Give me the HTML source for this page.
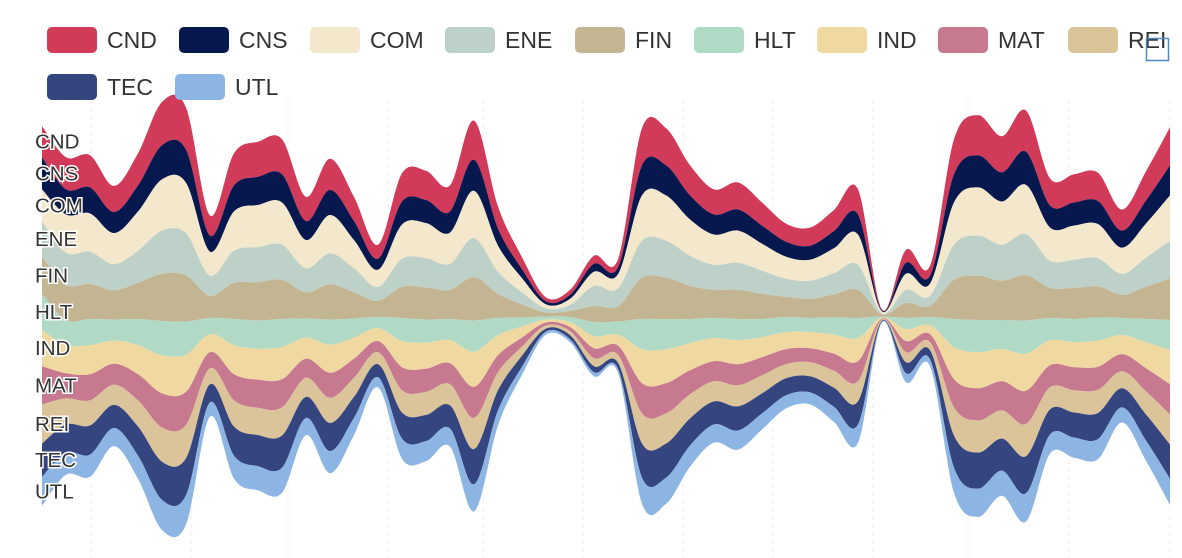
<!DOCTYPE html>
<html><head><meta charset="utf-8">
<style>
html,body{margin:0;padding:0;background:#fff;}
body{width:1182px;height:558px;overflow:hidden;position:relative;font-family:"Liberation Sans",sans-serif;}
svg{position:absolute;left:0;top:0;}
</style></head>
<body>
<svg id="chart" width="1182" height="558"></svg>
<script>
const series = ["CND","CNS","COM","ENE","FIN","HLT","IND","MAT","REI","TEC","UTL"];
const colors = ["#d13a59","#07184f","#f3e7cc","#bed1c9","#c4b592","#b0d9c6","#f0d9a0","#c77990","#dcc49a","#344580","#8db5e3"];
const gridX = [91,191,288,388,483,583,683,773,873,968,1069,1170];
const vCND=[31,32,32,26,32,43,42,20,32,35,35,24,31,24,14,28,29,26,39,22,12,4,5,8,8,37,37,30,25,27,23,18,18,21,25,1,13,10,35,40,36,41,27,28,28,21,29,38];
const vCNS=[32,25,26,21,26,34,33,16,26,28,28,19,25,19,11,23,23,21,31,17,9,3,4,8,7,30,30,24,20,21,18,15,14,17,20,1,11,8,28,32,29,33,22,23,23,17,23,30];
const vCOM=[32,38,38,31,39,51,50,24,39,42,42,28,38,28,17,34,35,31,47,26,14,4,6,14,14,45,45,36,30,32,27,22,21,25,30,2,16,12,42,48,43,49,33,34,34,26,34,45];
const vENE=[35,32,32,26,32,43,42,20,32,35,35,24,31,24,14,28,29,26,39,22,12,4,6,20,18,37,37,30,25,27,23,18,18,21,25,1,13,10,35,40,36,41,27,28,28,21,29,38];
const vFIN=[37,35,35,29,36,47,46,22,36,38,39,26,35,26,16,31,32,29,43,24,13,4,6,16,15,41,41,33,28,29,25,20,19,23,28,2,15,11,39,44,39,45,30,31,31,23,32,41];
const vHLT=[36,25,26,21,26,34,33,16,26,28,28,19,25,19,11,23,23,21,31,17,9,3,5,14,13,30,30,24,20,21,18,15,14,17,20,1,11,8,28,32,29,33,22,23,23,17,23,30];
const vIND=[36,28,29,23,29,38,37,18,29,31,32,21,28,21,13,26,26,23,35,20,11,3,5,12,11,34,34,27,23,24,20,17,16,19,23,1,12,9,32,36,32,37,25,25,26,19,26,34];
const vMAT=[38,25,26,21,26,34,33,16,26,28,28,19,25,19,11,23,23,21,31,17,9,3,4,10,9,30,30,24,20,21,18,15,14,17,20,1,11,8,28,32,29,33,22,23,23,17,23,30];
const vREI=[39,26,25,20,26,34,33,16,26,27,28,19,25,19,12,22,23,21,31,18,9,3,4,8,8,30,30,24,20,21,18,14,14,17,20,1,10,8,28,32,28,32,22,22,23,17,23,30];
const vTEC=[33,28,29,23,29,38,37,18,29,31,32,21,28,21,13,26,26,23,35,20,11,3,4,6,6,34,34,27,23,24,20,17,16,19,23,1,11,9,32,36,32,37,25,25,26,19,26,34];
const vUTL=[29,22,22,18,23,30,29,14,23,24,25,17,22,17,10,20,20,18,27,15,8,3,3,4,4,26,26,21,18,19,16,13,12,15,18,1,9,7,25,28,25,28,19,20,20,15,20,26];
const values=[vCND,vCNS,vCOM,vENE,vFIN,vHLT,vIND,vMAT,vREI,vTEC,vUTL];

const NS="http://www.w3.org/2000/svg";
const svg=document.getElementById('chart');
const X0=42,X1=1170,TOP=102,BOT=530,CY=(TOP+BOT)/2;
const n=vCND.length;
const totals=[];for(let i=0;i<n;i++){let s=0;values.forEach(v=>s+=v[i]);totals.push(s);}
const maxT=Math.max(...totals);
const k=(BOT-TOP)/maxT;
function xScale(i){return X0+(X1-X0)*i/(n-1);}
function yScale(cum,i){return CY-totals[i]*k/2+cum*k;}
function mk(tag,attrs){const e=document.createElementNS(NS,tag);for(const a in attrs)e.setAttribute(a,attrs[a]);return e;}
function curve(pts){let d='';for(let i=0;i<pts.length-1;i++){const p0=pts[Math.max(i-1,0)],p1=pts[i],p2=pts[i+1],p3=pts[Math.min(i+2,pts.length-1)];
const c1x=p1[0]+(p2[0]-p0[0])/6,c1y=p1[1]+(p2[1]-p0[1])/6,c2x=p2[0]-(p3[0]-p1[0])/6,c2y=p2[1]-(p3[1]-p1[1])/6;
d+=` C${c1x.toFixed(1)},${c1y.toFixed(1)} ${c2x.toFixed(1)},${c2y.toFixed(1)} ${p2[0].toFixed(1)},${p2[1].toFixed(1)}`;}return d;}

gridX.forEach(gx=>{const l=mk('line',{x1:gx,x2:gx,y1:100,y2:558,stroke:'#eeeeee','stroke-dasharray':'4,4','stroke-width':1});


svg.appendChild(l);});

const cum=new Array(n).fill(0);
series.forEach((name,s)=>{
 const top=[],bot=[];
 for(let i=0;i<n;i++){top.push([xScale(i),yScale(cum[i],i)]);cum[i]+=values[s][i];bot.push([xScale(i),yScale(cum[i],i)]);}
 const rb=bot.slice().reverse();
 const d='M'+top[0][0]+','+top[0][1]+curve(top)+' L'+rb[0][0]+','+rb[0][1]+curve(rb)+' Z';
 const p=mk('path',{d:d,fill:colors[s]});
 
 
 svg.appendChild(p);
});
let c0=0;
series.forEach((name,s)=>{
 const mid=yScale(c0+values[s][0]/2,0);c0+=values[s][0];
 const t=mk('text',{x:35,y:mid+7,'font-size':20.5,fill:'#333','stroke':'#fff','stroke-width':3,'paint-order':'stroke','font-family':'Liberation Sans, sans-serif'});
 t.textContent=name;
 
 
 svg.appendChild(t);
});
const legPos=[[47,40],[179,40],[310,40],[445,40],[575,40],[694,40],[817,40],[938,40],[1068,40],[47,87],[175,87]];
series.forEach((name,s)=>{
 const g=mk('g',{});
 
 
 const [lx,ly]=legPos[s];
 g.appendChild(mk('rect',{x:lx,y:ly-13,width:50,height:26,rx:5,fill:colors[s]}));
 const t=mk('text',{x:lx+60,y:ly+8,'font-size':23,fill:'#333','font-family':'Liberation Sans, sans-serif'});
 t.textContent=name;g.appendChild(t);
 svg.appendChild(g);
});
const tb=mk('rect',{x:1146.5,y:38.5,width:22,height:22,fill:'none',stroke:'#4f8ac2','stroke-width':1.5});


svg.appendChild(tb);
</script>
</body></html>
